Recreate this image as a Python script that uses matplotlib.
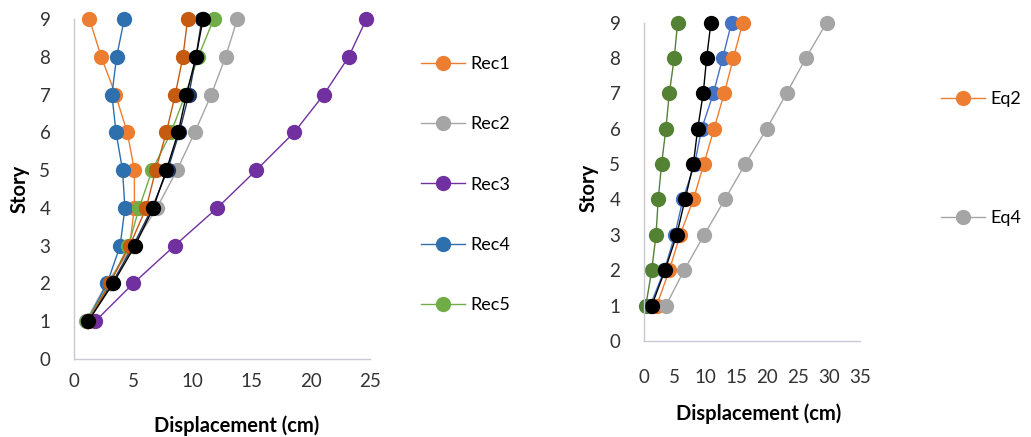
import matplotlib
matplotlib.use("Agg")
import matplotlib.pyplot as plt
from matplotlib.lines import Line2D

plt.rcParams['font.family'] = ['Lato', 'DejaVu Sans']

stories = [1, 2, 3, 4, 5, 6, 7, 8, 9]

# left chart: records (displacement in cm per story)
rec1 = [1.2, 3.0, 4.7, 5.1, 5.1, 4.5, 3.5, 2.3, 1.3]
rec2 = [1.0, 2.75, 5.0, 7.0, 8.7, 10.2, 11.6, 12.8, 13.8]
rec3 = [1.8, 5.0, 8.5, 12.1, 15.4, 18.6, 21.1, 23.2, 24.7]
rec4 = [1.1, 2.8, 3.9, 4.3, 4.1, 3.55, 3.2, 3.6, 4.25]
rec5 = [1.1, 3.0, 4.6, 5.5, 6.6, 8.2, 9.4, 10.5, 11.8]
rec6 = [1.2, 3.2, 5.0, 6.6, 7.9, 8.9, 9.7, 10.3, 10.8]
rec7 = [1.2, 3.0, 4.7, 6.1, 6.9, 7.8, 8.55, 9.2, 9.6]
rec8 = [1.2, 3.3, 5.15, 6.7, 7.8, 8.8, 9.5, 10.3, 10.9]

# right chart: equations
eq1 = [1.0, 3.3, 5.0, 6.3, 8.2, 9.35, 11.25, 12.75, 14.2]
eq2 = [2.05, 4.1, 5.85, 8.0, 9.7, 11.35, 13.0, 14.5, 16.0]
eq3 = [0.3, 1.25, 1.95, 2.3, 2.85, 3.55, 4.1, 4.9, 5.45]
eq4 = [3.55, 6.5, 9.75, 13.1, 16.4, 19.9, 23.1, 26.25, 29.6]
eq5 = [1.25, 3.4, 5.3, 6.65, 8.0, 8.7, 9.6, 10.15, 10.85]

left_series = [
    ('Rec1', rec1, '#ED7D31'),
    ('Rec2', rec2, '#A5A5A5'),
    ('Rec3', rec3, '#7030A0'),
    ('Rec4', rec4, '#2E6FAE'),
    ('Rec5', rec5, '#70AD47'),
    (None, rec6, '#1F3864'),
    (None, rec7, '#C55A11'),
    (None, rec8, '#000000'),
]
right_series = [
    (None, eq1, '#4472C4'),
    ('Eq2', eq2, '#ED7D31'),
    (None, eq3, '#548235'),
    ('Eq4', eq4, '#A5A5A5'),
    (None, eq5, '#000000'),
]

W, H = 1031, 437
fig = plt.figure(figsize=(W / 100, H / 100), dpi=100)

axis_col = '#C9C9D6'
tick_fs = 13.5
label_fs = 14.5
ms = 11


def style_axes(ax, xmax):
    ax.set_xlim(0, xmax)
    ax.set_ylim(0, 9)
    ax.set_xticks(range(0, xmax + 1, 5))
    ax.set_yticks(range(0, 10))
    for s in ['top', 'right']:
        ax.spines[s].set_visible(False)
    for s in ['left', 'bottom']:
        ax.spines[s].set_color(axis_col)
        ax.spines[s].set_linewidth(1.0)
    ax.tick_params(length=0, labelsize=tick_fs, colors='#333333')
    ax.set_facecolor('none')


def draw(ax, series):
    handles = []
    for name, vals, col in series:
        ax.plot(vals, stories, color=col, lw=1.0, marker='o',
                markersize=ms, markeredgewidth=0, clip_on=False)
        if name:
            handles.append(Line2D([], [], color=col, lw=1.0, marker='o',
                                  markersize=ms, markeredgewidth=0, label=name))
    return handles


ax1 = fig.add_axes([74 / W, 1 - 359 / H, 296 / W, 340 / H])
h1 = draw(ax1, left_series)
style_axes(ax1, 25)
ax1.tick_params(axis='x', pad=10)
ax1.tick_params(axis='y', pad=17)
ax1.set_xlabel('Displacement (cm)', fontsize=label_fs, fontweight='bold')
ax1.xaxis.set_label_coords(0.55, -0.165)
ax1.set_ylabel('Story', fontsize=label_fs, fontweight='bold')
ax1.yaxis.set_label_coords(-0.15, 0.5)

ax2 = fig.add_axes([644 / W, 1 - 341 / H, 216 / W, 318.5 / H])
h2 = draw(ax2, right_series)
style_axes(ax2, 35)
ax2.tick_params(axis='x', pad=20)
ax2.tick_params(axis='y', pad=17)
ax2.set_xlabel('Displacement (cm)', fontsize=label_fs, fontweight='bold')
ax2.xaxis.set_label_coords(0.53, -0.195)
ax2.set_ylabel('Story', fontsize=label_fs, fontweight='bold')
ax2.yaxis.set_label_coords(-0.21, 0.48)

fig.legend(handles=h1, loc='upper left', bbox_to_anchor=(405 / W, 1 - 40 / H),
           frameon=False, fontsize=13, labelspacing=2.45, handlelength=2.4,
           handletextpad=0.3)
fig.legend(handles=h2, loc='upper left', bbox_to_anchor=(925 / W, 1 - 75 / H),
           frameon=False, fontsize=13, labelspacing=5.7, handlelength=2.4,
           handletextpad=0.3)

fig.savefig('out.png', dpi=100, facecolor='white')
